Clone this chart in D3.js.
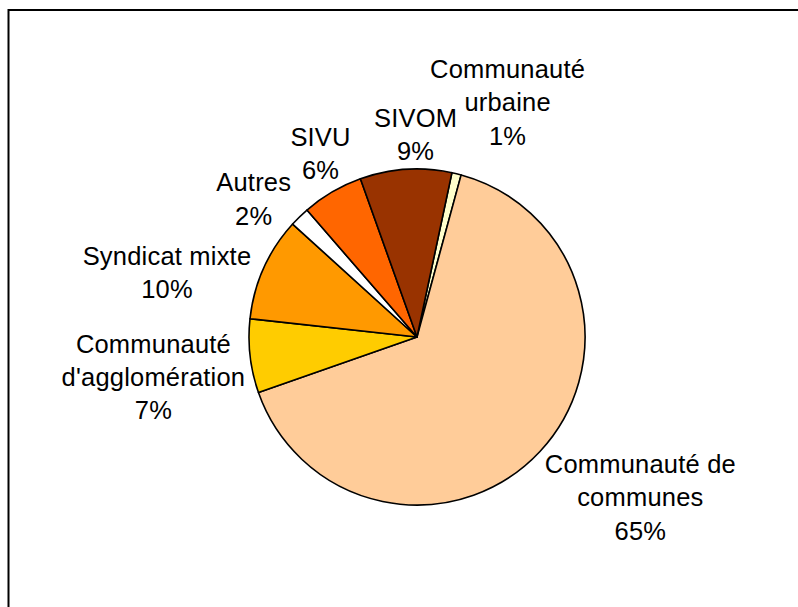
<!DOCTYPE html>
<html>
<head>
<meta charset="utf-8">
<script src="https://cdn.jsdelivr.net/npm/d3@7"></script>
<style>
  html, body { margin: 0; padding: 0; background: #fff; }
  svg { display: block; }
</style>
</head>
<body>
<svg id="chart" width="798" height="607"></svg>
<script>
// ---- data ----
const categories = ["Communauté urbaine", "Communauté de communes", "Communauté d'agglomération",
                    "Syndicat mixte", "Autres", "SIVU", "SIVOM"];
const values = [0.9, 65.4, 7.1, 10.0, 1.9, 5.9, 8.8];
const percentLabels = ["1%", "65%", "7%", "10%", "2%", "6%", "9%"];
const labelLines = [
  ["Communauté", "urbaine"],
  ["Communauté de", "communes"],
  ["Communauté", "d'agglomération"],
  ["Syndicat mixte"],
  ["Autres"],
  ["SIVU"],
  ["SIVOM"]
];
const colors = ["#FFFFCC", "#FFCC99", "#FFCC00", "#FF9900", "#FFFFFF", "#FF6600", "#993300"];

// ---- layout ----
const W = 798, H = 607;
const cx = 417, cy = 337, r = 168;
const labelR = 215;
const labelNudge = [[40, -26], [66, 13.5], [-50, 15.5], [-54, 24], [-13, 16], [12, 2], [13, 12]];
const lineH = 33.5;
const fontSize = 25.5;

const svg = d3.select("#chart");

// frame
svg.append("rect")
  .attr("x", 8.5).attr("y", 10)
  .attr("width", 820).attr("height", 640)
  .attr("fill", "none").attr("stroke", "#000").attr("stroke-width", 2);

const startA = 12 * Math.PI / 180;
const pie = d3.pie().sort(null).value(d => d).startAngle(startA).endAngle(startA + 2 * Math.PI);
const arcs = pie(values);
const arc = d3.arc().innerRadius(0).outerRadius(r);
const labelArc = d3.arc().innerRadius(labelR).outerRadius(labelR);

const g = svg.append("g").attr("transform", `translate(${cx},${cy})`);

g.selectAll("path.slice")
  .data(arcs)
  .join("path")
  .attr("class", "slice")
  .attr("d", arc)
  .attr("fill", (d, i) => colors[i])
  .attr("stroke", "#000")
  .attr("stroke-width", 1.6)
  .attr("stroke-linejoin", "round");

g.selectAll("text.lbl")
  .data(arcs)
  .join("text")
  .attr("class", "lbl")
  .attr("font-family", "'Liberation Sans', Arial, sans-serif")
  .attr("font-size", fontSize)
  .attr("letter-spacing", 0.2)
  .attr("fill", "#000")
  .attr("text-anchor", "middle")
  .each(function (d, i) {
    const c = labelArc.centroid(d);
    const x = c[0] + labelNudge[i][0];
    const y = c[1] + labelNudge[i][1];
    const lines = labelLines[i].concat([percentLabels[i]]);
    const n = lines.length;
    const t = d3.select(this);
    lines.forEach((ln, k) => {
      t.append("tspan")
        .attr("x", x)
        .attr("y", y + (k - (n - 1) / 2) * lineH + 9)
        .text(ln);
    });
  });
</script>
</body>
</html>
